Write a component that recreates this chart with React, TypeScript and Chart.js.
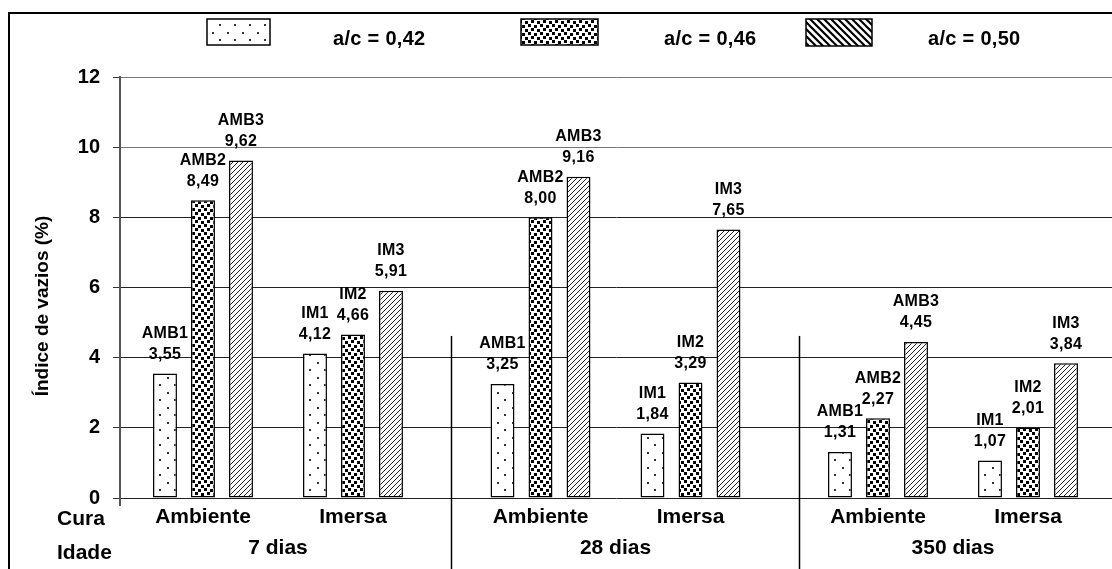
import React, { useEffect, useRef } from "react";
import { Chart, registerables } from "chart.js";

Chart.register(...registerables);

// ---- data ----
const ages = ["7 dias", "28 dias", "350 dias"];
const cures = ["Ambiente", "Imersa"];
const cureCodes = ["AMB", "IM"];
const seriesLabels = ["a/c = 0,42", "a/c = 0,46", "a/c = 0,50"];
const ac042 = [3.55, 4.12, 3.25, 1.84, 1.31, 1.07];
const ac046 = [8.49, 4.66, 8.0, 3.29, 2.27, 2.01];
const ac050 = [9.62, 5.91, 9.16, 7.65, 4.45, 3.84];
const yTicks = [0, 2, 4, 6, 8, 10, 12];
const yTitle = "Índice de vazios (%)";
const rowTitles = ["Cura", "Idade"];

// ---- layout constants ----
const CURE_STEP = 4;
const AGE_STEP = 9;
const X_MIN = -2.213;
const X_MAX = 24.24;
const SEPARATORS = [6.61, 15.89];
const SEP_TOP = 4.62;
const FONT = '"Liberation Sans", Arial, Helvetica, sans-serif';

const posOf = (i: number) => Math.floor(i / 2) * AGE_STEP + (i % 2) * CURE_STEP;

function makeTile(w: number, h: number, draw: (c: CanvasRenderingContext2D) => void) {
  const cv = document.createElement("canvas");
  cv.width = w;
  cv.height = h;
  const c = cv.getContext("2d")!;
  c.fillStyle = "#fff";
  c.fillRect(0, 0, w, h);
  draw(c);
  return cv;
}

function buildPatterns(ctx: CanvasRenderingContext2D) {
  const sparse = makeTile(15, 15, (c) => {
    c.fillStyle = "#333";
    c.fillRect(2, 2, 2, 2);
    c.fillRect(9, 9, 2, 2);
  });
  const dense = makeTile(12, 8, (c) => {
    c.fillStyle = "#000";
    c.fillRect(0, 0, 3, 3);
    c.fillRect(6, 1, 3, 3);
    c.fillRect(3, 4, 3, 3);
    c.fillRect(9, 5, 3, 3);
  });
  const hatch = makeTile(5, 5, (c) => {
    c.strokeStyle = "#222";
    c.lineWidth = 1;
    c.beginPath();
    c.moveTo(-1, 6);
    c.lineTo(6, -1);
    c.moveTo(-1, 1);
    c.lineTo(1, -1);
    c.moveTo(4, 6);
    c.lineTo(6, 4);
    c.stroke();
  });
  const hatchLegend = makeTile(7, 7, (c) => {
    c.strokeStyle = "#000";
    c.lineWidth = 2.2;
    c.beginPath();
    c.moveTo(-1, -1);
    c.lineTo(8, 8);
    c.moveTo(-1, 6);
    c.lineTo(1, 8);
    c.moveTo(6, -1);
    c.lineTo(8, 1);
    c.stroke();
  });
  return {
    sparse: ctx.createPattern(sparse, "repeat")!,
    dense: ctx.createPattern(dense, "repeat")!,
    hatch: ctx.createPattern(hatch, "repeat")!,
    hatchLegend: ctx.createPattern(hatchLegend, "repeat")!,
  };
}

function text(
  ctx: CanvasRenderingContext2D,
  s: string,
  x: number,
  y: number,
  size: number,
  align: CanvasTextAlign,
  spacing: number,
  baseline: CanvasTextBaseline = "middle",
  rotate = 0
) {
  ctx.save();
  ctx.font = `bold ${size}px ${FONT}`;
  (ctx as any).letterSpacing = `${spacing}px`;
  ctx.fillStyle = "#000";
  ctx.textAlign = align;
  ctx.textBaseline = baseline;
  ctx.translate(x, y);
  if (rotate) ctx.rotate(rotate);
  ctx.fillText(s, 0, 0);
  ctx.restore();
}

export default function App() {
  const ref = useRef<HTMLCanvasElement | null>(null);

  useEffect(() => {
    const canvas = ref.current!;
    const ctx0 = canvas.getContext("2d")!;
    const pats = buildPatterns(ctx0);
    const fills = [pats.sparse, pats.dense, pats.hatch];
    const legendFills = [pats.sparse, pats.dense, pats.hatchLegend];
    const series = [ac042, ac046, ac050];

    const decor = {
      id: "decor",
      afterDraw(chart: any) {
        const ctx: CanvasRenderingContext2D = chart.ctx;
        const xs = chart.scales.x;
        const ys = chart.scales.y;
        const area = chart.chartArea;

        ctx.save();
        // frame
        ctx.strokeStyle = "#000";
        ctx.lineWidth = 2;
        ctx.strokeRect(9, 13, 1300, 800);

        // axis extension below zero
        ctx.strokeStyle = "#555";
        ctx.lineWidth = 2;
        ctx.beginPath();
        ctx.moveTo(area.left, area.bottom);
        ctx.lineTo(area.left, area.bottom + 8);
        ctx.stroke();

        // separators
        ctx.strokeStyle = "#000";
        ctx.lineWidth = 1.5;
        SEPARATORS.forEach((s) => {
          const px = Math.round(xs.getPixelForValue(s)) + 0.5;
          ctx.beginPath();
          ctx.moveTo(px, ys.getPixelForValue(SEP_TOP));
          ctx.lineTo(px, chart.height);
          ctx.stroke();
        });
        ctx.restore();

        // y title
        text(ctx, yTitle, 43, 306, 19, "center", 0, "middle", -Math.PI / 2);

        // category labels
        ages.forEach((age, a) => {
          cures.forEach((cure, c) => {
            const px = xs.getPixelForValue(a * AGE_STEP + c * CURE_STEP);
            text(ctx, cure, px, 517, 21, "center", 0);
          });
          const mid = xs.getPixelForValue(a * AGE_STEP + CURE_STEP / 2);
          text(ctx, age, mid, 548, 21, "center", 0);
        });
        text(ctx, rowTitles[0], 57, 519, 21, "left", 0);
        text(ctx, rowTitles[1], 57, 553, 21, "left", 0);

        // data labels
        chart.data.datasets.forEach((ds: any, d: number) => {
          const meta = chart.getDatasetMeta(d);
          meta.data.forEach((bar: any, i: number) => {
            const v = series[d][i];
            const name = cureCodes[i % 2] + (d + 1);
            const val = v.toFixed(2).replace(".", ",");
            text(ctx, val, bar.x, bar.y - 19, 16, "center", 0.3);
            text(ctx, name, bar.x, bar.y - 40, 16, "center", 0.3);
          });
        });

        // legend
        const boxes = [
          [207, 19, 63, 26, 333],
          [521, 19, 77, 26, 664],
          [806, 19, 66, 27, 928],
        ];
        boxes.forEach((b, k) => {
          ctx.save();
          ctx.fillStyle = legendFills[k];
          ctx.fillRect(b[0], b[1], b[2], b[3]);
          ctx.strokeStyle = "#000";
          ctx.lineWidth = 1.5;
          ctx.strokeRect(b[0], b[1], b[2], b[3]);
          ctx.restore();
          text(ctx, seriesLabels[k], b[4], 45, 20, "left", 0.3, "alphabetic");
        });
      },
    };

    const chart = new Chart(canvas, {
      type: "bar",
      data: {
        datasets: series.map((vals, d) => ({
          label: seriesLabels[d],
          data: vals.map((v, i) => ({ x: posOf(i), y: v })),
          backgroundColor: fills[d],
          borderColor: "#000",
          borderWidth: 1.5,
          borderSkipped: false,
          categoryPercentage: 0.76,
          barPercentage: 0.63,
        })),
      },
      options: {
        animation: false,
        responsive: true,
        maintainAspectRatio: false,
        layout: { padding: { top: 77, right: 0, bottom: 71, left: 0 } },
        plugins: {
          legend: { display: false },
          tooltip: { enabled: false },
        },
        scales: {
          x: {
            type: "linear",
            min: X_MIN,
            max: X_MAX,
            display: false,
            afterBuildTicks: (s: any) => {
              s.ticks = [];
            },
          },
          y: {
            type: "linear",
            min: 0,
            max: 12,
            afterBuildTicks: (s: any) => {
              s.ticks = yTicks.map((v) => ({ value: v }));
            },
            afterFit: (s: any) => {
              s.width = 120;
            },
            ticks: {
              color: "#000",
              padding: 13,
              font: { family: FONT, size: 20, weight: "bold" },
            },
            grid: {
              color: (c: any) => (c.tick && c.tick.value >= 10 ? "#777" : "#222"),
              lineWidth: 1,
              tickLength: 7,
              tickColor: "#333",
            },
            border: { color: "#555", width: 2 },
            title: { display: false },
          },
        },
      },
      plugins: [decor],
    } as any);

    return () => chart.destroy();
  }, []);

  return (
    <div
      style={{
        position: "fixed",
        left: 0,
        top: 0,
        width: 1112,
        height: 569,
        background: "#fff",
      }}
    >
      <canvas ref={ref} />
    </div>
  );
}
